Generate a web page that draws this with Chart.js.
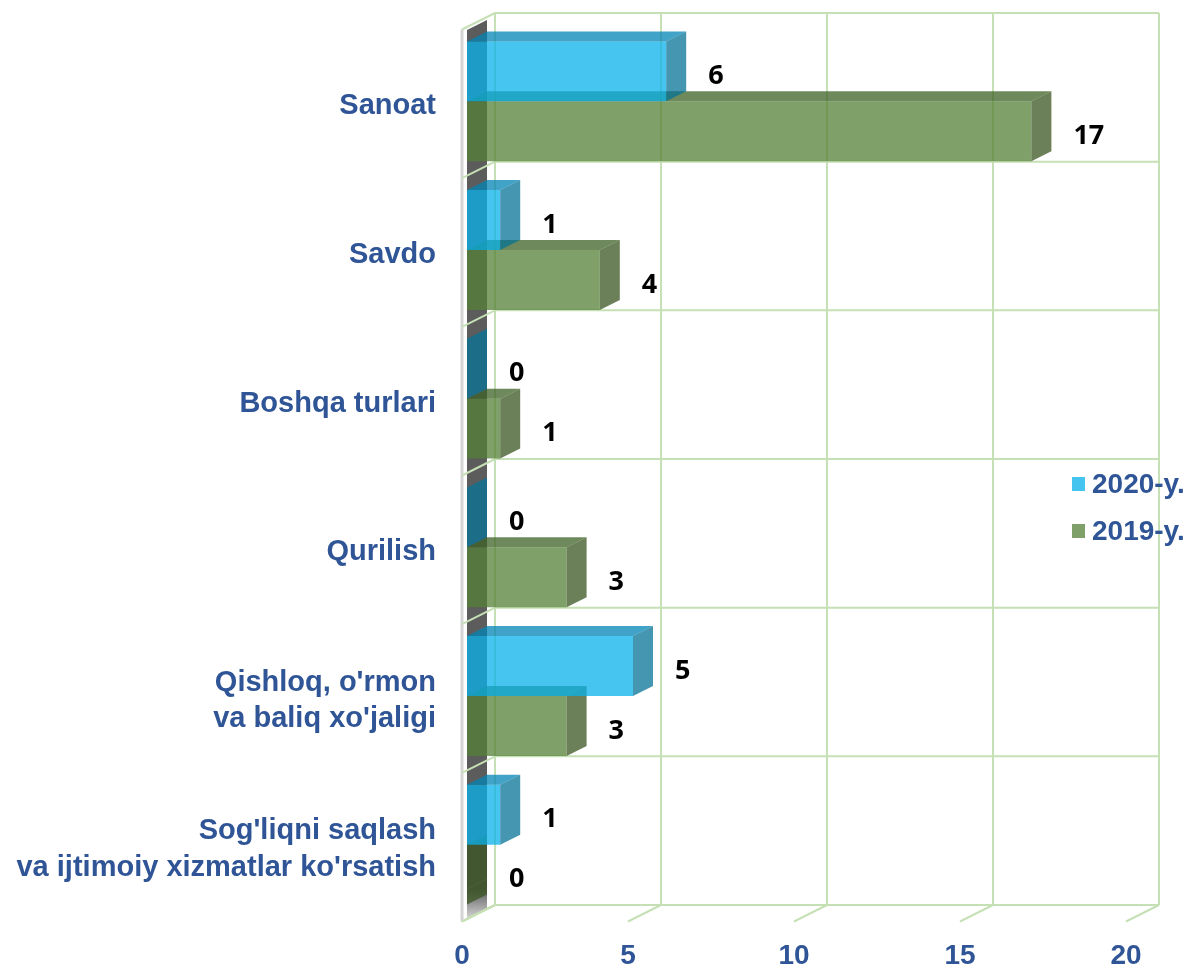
<!DOCTYPE html>
<html>
<head>
<meta charset="utf-8">
<script src="https://cdn.jsdelivr.net/npm/chart.js@4.4.1/dist/chart.umd.min.js"></script>
<style>
  html, body { margin: 0; padding: 0; background: #ffffff; }
  #wrap { width: 1189px; height: 966px; }
</style>
</head>
<body>
<div id="wrap"><canvas id="chart" width="1189" height="966"></canvas></div>
<script>
// Kategoriyalar va qiymatlar
const categories = [
    'Sanoat',
    'Savdo',
    'Boshqa turlari',
    'Qurilish',
    ["Qishloq, o'rmon", "va baliq xo'jaligi"],
    ["Sog'liqni saqlash", "va ijtimoiy xizmatlar ko'rsatish"]
];
const seriesNames = ['2020-y.', '2019-y.'];
const values2020 = [6, 1, 0, 0, 5, 1];
const values2019 = [17, 4, 1, 3, 3, 0];
const xTickValues = [0, 5, 10, 15, 20];

// ranglar (old yuz, ustki yuz, yon yuz, legend)
const faceColors = [
    { front: 'rgba(8,177,235,0.75)', top: 'rgba(2,132,182,0.75)', side: 'rgba(7,115,150,0.75)', legend: '#45C4F0' },
    { front: 'rgba(84,128,54,0.75)', top: 'rgba(62,99,38,0.75)', side: 'rgba(58,86,34,0.75)', legend: '#7FA068' }
];
const labelBlue = '#2F5597';
const gridGreen = '#C5E0B4';

// 3D siljishlar (ustun old tekisligiga nisbatan)
const BAR_DX = 20, BAR_DY = -10;
const WALL_DX = 28, WALL_DY = -14;
const FRONT_DX = -5, FRONT_DY = 2.5;

function line(ctx, x1, y1, x2, y2) {
    ctx.beginPath();
    ctx.moveTo(x1, y1);
    ctx.lineTo(x2, y2);
    ctx.stroke();
}

function poly(ctx, pts, fill) {
    ctx.beginPath();
    ctx.moveTo(pts[0][0], pts[0][1]);
    for (let i = 1; i < pts.length; i++) ctx.lineTo(pts[i][0], pts[i][1]);
    ctx.closePath();
    ctx.fillStyle = fill;
    ctx.fill();
}

const walls3d = {
    id: 'walls3d',
    beforeDatasetsDraw(chart) {
        const { ctx, chartArea: ca, scales } = chart;
        const xs = scales.x;
        const n = chart.data.labels.length;
        const band = (ca.bottom - ca.top) / n;
        ctx.save();

        // chap devor ichidagi to'q kulrang yo'lak
        const grad = ctx.createLinearGradient(0, ca.bottom - 30, 0, ca.bottom);
        grad.addColorStop(0, '#5c5c5c');
        grad.addColorStop(1, '#d6d6d6');
        poly(ctx, [
            [xs.left, ca.top + 3], [xs.left + BAR_DX, ca.top + 3 + BAR_DY],
            [xs.left + BAR_DX, ca.bottom - 30 + BAR_DY], [xs.left, ca.bottom - 30]
        ], '#5c5c5c');
        poly(ctx, [
            [xs.left, ca.bottom - 30], [xs.left + BAR_DX, ca.bottom - 30 + BAR_DY],
            [xs.left + BAR_DX, ca.bottom + BAR_DY], [xs.left, ca.bottom]
        ], grad);

        // chap devorning old qirrasi
        ctx.strokeStyle = '#d4d4d4';
        ctx.lineWidth = 3;
        line(ctx, xs.left + FRONT_DX, ca.top + FRONT_DY, xs.left + FRONT_DX, ca.bottom + FRONT_DY);

        ctx.strokeStyle = gridGreen;
        ctx.lineWidth = 2;
        // orqa devor vertikal chiziqlari va pol chiziqlari
        xTickValues.forEach(v => {
            const px = xs.getPixelForValue(v);
            line(ctx, px + WALL_DX, ca.top + WALL_DY, px + WALL_DX, ca.bottom + WALL_DY);
            line(ctx, px + WALL_DX, ca.bottom + WALL_DY, px + FRONT_DX, ca.bottom + FRONT_DY);
        });
        // gorizontal chiziqlar (orqa devor + chap devor)
        for (let k = 0; k <= n; k++) {
            const yy = ca.top + k * band;
            line(ctx, xs.left + WALL_DX, yy + WALL_DY, xs.right + WALL_DX, yy + WALL_DY);
            line(ctx, xs.left + FRONT_DX, yy + FRONT_DY, xs.left + WALL_DX, yy + WALL_DY);
        }
        ctx.restore();
    },
    afterDatasetDraw(chart, args) {
        const { ctx } = chart;
        const col = faceColors[args.index];
        ctx.save();
        args.meta.data.forEach(el => {
            const p = el.getProps(['x', 'y', 'base', 'height'], true);
            const top = p.y - p.height / 2;
            const bottom = p.y + p.height / 2;
            poly(ctx, [
                [p.base, top], [p.x, top], [p.x + BAR_DX, top + BAR_DY], [p.base + BAR_DX, top + BAR_DY]
            ], col.top);
            poly(ctx, [
                [p.x, top], [p.x + BAR_DX, top + BAR_DY], [p.x + BAR_DX, bottom + BAR_DY], [p.x, bottom]
            ], col.side);
        });
        ctx.restore();
    },
    afterDatasetsDraw(chart) {
        const { ctx } = chart;
        ctx.save();
        ctx.fillStyle = '#000000';
        ctx.font = 'bold 27px "Open Sans"';
        ctx.textAlign = 'left';
        ctx.textBaseline = 'middle';
        chart.data.datasets.forEach((ds, i) => {
            chart.getDatasetMeta(i).data.forEach((el, j) => {
                const p = el.getProps(['x', 'y'], true);
                ctx.fillText(String(ds.data[j]), p.x + 42, p.y + 5);
            });
        });
        ctx.restore();
    },
    afterDraw(chart) {
        const { ctx, chartArea: ca } = chart;
        ctx.save();
        ctx.font = 'bold 28px "Liberation Sans"';
        ctx.textAlign = 'left';
        ctx.textBaseline = 'middle';
        const lx = ca.right - 59;
        const ly = [484, 531];
        seriesNames.forEach((name, i) => {
            ctx.fillStyle = faceColors[i].legend;
            ctx.fillRect(lx, ly[i] - 7, 13, 14);
            ctx.fillStyle = labelBlue;
            ctx.fillText(name, lx + 20, ly[i] + 1);
        });
        ctx.restore();
    }
};

new Chart(document.getElementById('chart'), {
    type: 'bar',
    data: {
        labels: categories,
        datasets: [
            { label: seriesNames[0], data: values2020, backgroundColor: faceColors[0].front, borderWidth: 0 },
            { label: seriesNames[1], data: values2019, backgroundColor: faceColors[1].front, borderWidth: 0 }
        ]
    },
    options: {
        indexAxis: 'y',
        responsive: false,
        animation: false,
        devicePixelRatio: 1,
        categoryPercentage: 0.806,
        barPercentage: 1,
        layout: { padding: { top: 27, right: 58, left: 0, bottom: 0 } },
        plugins: {
            legend: { display: false },
            tooltip: { enabled: false }
        },
        scales: {
            x: {
                min: 0,
                max: 20,
                afterBuildTicks: (scale) => { scale.ticks = xTickValues.map(v => ({ value: v })); },
                afterFit: (scale) => { scale.height = 47; scale.paddingLeft = 0; scale.paddingRight = 0; },
                grid: { display: false, drawTicks: false },
                border: { display: false },
                ticks: {
                    color: labelBlue,
                    font: { family: '"Liberation Sans"', weight: 'bold', size: 28 },
                    padding: 20,
                    labelOffset: -5,
                    maxRotation: 0
                }
            },
            y: {
                afterFit: (scale) => { scale.width = 467; scale.paddingTop = 0; scale.paddingBottom = 0; },
                grid: { display: false, drawTicks: false },
                border: { display: false },
                ticks: {
                    color: labelBlue,
                    font: { family: '"Liberation Sans"', weight: 'bold', size: 29, lineHeight: 1.26 },
                    padding: 31,
                    labelOffset: 5
                }
            }
        }
    },
    plugins: [walls3d]
});
</script>
</body>
</html>
